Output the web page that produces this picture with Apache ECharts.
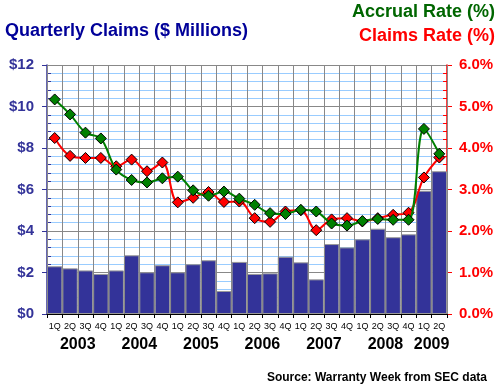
<!DOCTYPE html>
<html>
<head>
<meta charset="utf-8">
<script src="https://cdn.jsdelivr.net/npm/echarts@6/dist/echarts.min.js"></script>
<style>html,body{margin:0;padding:0;background:#fff;}#c{width:500px;height:386px;}</style>
</head>
<body>
<div id="c"></div>
<script>
var quarters = ['1Q','2Q','3Q','4Q','1Q','2Q','3Q','4Q','1Q','2Q','3Q','4Q','1Q','2Q','3Q','4Q','1Q','2Q','3Q','4Q','1Q','2Q','3Q','4Q','1Q','2Q'];
var quarterYears = ['2003','2003','2003','2003','2004','2004','2004','2004','2005','2005','2005','2005','2006','2006','2006','2006','2007','2007','2007','2007','2008','2008','2008','2008','2009','2009'];
var claims = [2.30,2.20,2.10,1.93,2.10,2.83,2.01,2.35,2.01,2.40,2.59,1.11,2.51,1.93,1.96,2.76,2.49,1.67,3.37,3.21,3.60,4.11,3.70,3.84,5.94,6.88];
var accrualRate = [5.17,4.81,4.37,4.23,3.48,3.23,3.17,3.27,3.31,2.98,2.85,2.95,2.78,2.63,2.43,2.41,2.51,2.47,2.18,2.13,2.24,2.29,2.27,2.27,4.46,3.86];
var claimsRate = [4.24,3.81,3.76,3.76,3.56,3.72,3.44,3.65,2.69,2.80,2.94,2.70,2.71,2.31,2.22,2.47,2.50,2.02,2.28,2.31,2.23,2.31,2.39,2.44,3.29,3.77];

// year axis: half-quarter slots, label each year at the middle of its quarters
var n = quarters.length;
var yearSlots = [];
for (var i = 0; i <= 2 * n; i++) yearSlots.push('');
var seen = {};
quarterYears.forEach(function (y, i) {
  if (!seen[y]) seen[y] = { first: i, last: i }; else seen[y].last = i;
});
Object.keys(seen).forEach(function (y) {
  var mid = (seen[y].first + seen[y].last + 1); // in half-quarter units
  yearSlots[mid] = y;
});

var FONT = 'Liberation Sans, Arial, sans-serif';
var chart = echarts.init(document.getElementById('c'), null, { renderer: 'canvas' });
chart.setOption({
  animation: false,
  backgroundColor: '#fff',
  textStyle: { fontFamily: FONT },
  title: [
    { text: 'Quarterly Claims ($ Millions)', left: 0, top: 17, textStyle: { color: '#000099', fontSize: 18, fontWeight: 'bold', fontFamily: FONT } },
    { text: 'Accrual Rate (%)', right: 0, top: -2, textStyle: { color: '#006600', fontSize: 18, fontWeight: 'bold', fontFamily: FONT } },
    { text: 'Claims Rate (%)', right: 0, top: 22, textStyle: { color: '#ff0000', fontSize: 18, fontWeight: 'bold', fontFamily: FONT } },
    { text: 'Source: Warranty Week from SEC data', right: 8, top: 367, textStyle: { color: '#000', fontSize: 12, fontWeight: 'bold', fontFamily: FONT } }
  ],
  grid: { left: 47, right: 53, top: 65, bottom: 72, show: true, backgroundColor: '#fff', borderWidth: 0 },
  xAxis: [
    {
      type: 'category', data: quarters, boundaryGap: true,
      axisLine: { show: true, lineStyle: { color: '#000', width: 1 } },
      axisTick: { show: true, interval: 0, length: 4, lineStyle: { color: '#000' } },
      axisLabel: { interval: 0, fontSize: 9, color: '#000', margin: 8, fontFamily: FONT },
      splitLine: { show: true, interval: 0, lineStyle: { color: '#888', width: 1 } },
      z: 5
    },
    {
      type: 'category', data: yearSlots, boundaryGap: false, position: 'bottom',
      axisLine: { show: false }, axisTick: { show: false }, splitLine: { show: false },
      axisLabel: { interval: 0, fontSize: 16, fontWeight: 'bold', color: '#000', margin: 23, fontFamily: FONT }
    }
  ],
  yAxis: [
    {
      type: 'value', min: 0, max: 12, interval: 2,
      axisLine: { show: true, lineStyle: { color: '#333399', width: 1.5 } },
      axisTick: { show: true, inside: false, length: 5, lineStyle: { color: '#333399' } },
      minorTick: { show: true, splitNumber: 5, length: -4, lineStyle: { color: '#333399' } },
      axisLabel: { formatter: function (v) { return '$' + v; }, color: '#333399', fontSize: 15, fontWeight: 'bold', margin: 13, fontFamily: FONT },
      splitLine: { show: true, lineStyle: { color: '#888', width: 1 } },
      minorSplitLine: { show: true, lineStyle: { color: '#99ccff', width: 1 } }
    },
    {
      type: 'value', min: 0, max: 6, interval: 1, position: 'right',
      axisLine: { show: true, lineStyle: { color: '#ff0000', width: 1.5 } },
      axisTick: { show: true, inside: false, length: 5, lineStyle: { color: '#ff0000' } },
      minorTick: { show: true, splitNumber: 5, length: -4, lineStyle: { color: '#ff0000' } },
      axisLabel: { formatter: function (v) { return v.toFixed(1) + '%'; }, color: '#ff0000', fontSize: 15, fontWeight: 'bold', margin: 12, fontFamily: FONT },
      splitLine: { show: false }
    }
  ],
  series: [
    {
      name: 'Quarterly Claims', type: 'bar', data: claims, xAxisIndex: 0, yAxisIndex: 0,
      barCategoryGap: '0%', barGap: '0%',
      itemStyle: { color: '#333399', borderColor: '#999', borderWidth: 1 },
      z: 3
    },
    {
      name: 'Claims Rate (%)', type: 'line', data: claimsRate, xAxisIndex: 0, yAxisIndex: 1,
      smooth: 0.35, symbol: 'diamond', symbolSize: 11,
      lineStyle: { color: '#ff0000', width: 2 },
      itemStyle: { color: '#ff0000', borderColor: '#000', borderWidth: 1 },
      z: 6
    },
    {
      name: 'Accrual Rate (%)', type: 'line', data: accrualRate, xAxisIndex: 0, yAxisIndex: 1,
      smooth: 0.35, symbol: 'diamond', symbolSize: 11,
      lineStyle: { color: '#008000', width: 2 },
      itemStyle: { color: '#008000', borderColor: '#000', borderWidth: 1 },
      z: 7
    }
  ]
});
</script>
</body>
</html>
